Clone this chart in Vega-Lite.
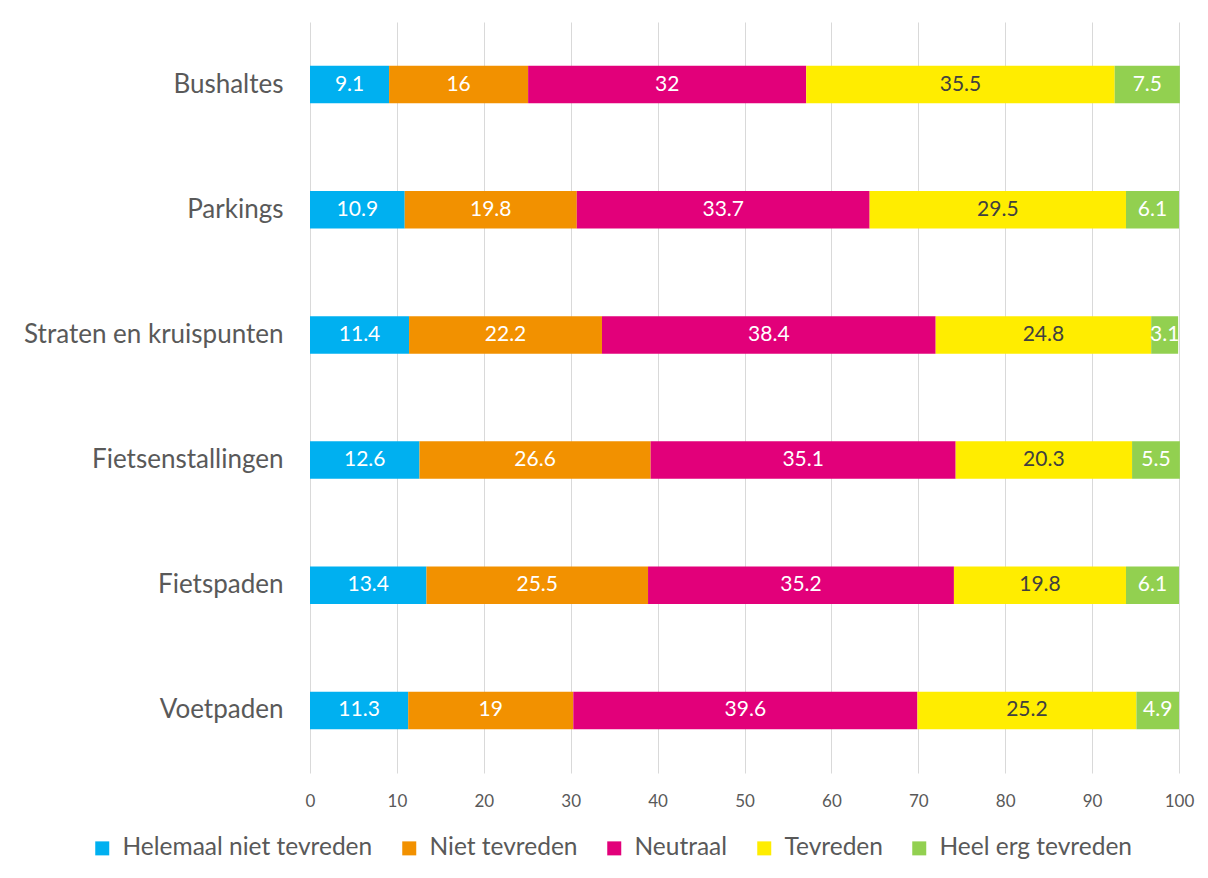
{
  "$schema": "https://vega.github.io/schema/vega-lite/v6.json",
  "width": 869,
  "height": 751,
  "autosize": {"type": "none"},
  "padding": {"left": 310, "top": 22, "right": 29, "bottom": 105},
  "background": "white",
  "config": {
    "font": "Lato",
    "view": {"stroke": null}
  },
  "data": {
    "values": [
      {"loc": "Bushaltes", "cat": "Helemaal niet tevreden", "k": 1, "v": 9.1},
      {"loc": "Bushaltes", "cat": "Niet tevreden", "k": 2, "v": 16},
      {"loc": "Bushaltes", "cat": "Neutraal", "k": 3, "v": 32},
      {"loc": "Bushaltes", "cat": "Tevreden", "k": 4, "v": 35.5},
      {"loc": "Bushaltes", "cat": "Heel erg tevreden", "k": 5, "v": 7.5},
      {"loc": "Parkings", "cat": "Helemaal niet tevreden", "k": 1, "v": 10.9},
      {"loc": "Parkings", "cat": "Niet tevreden", "k": 2, "v": 19.8},
      {"loc": "Parkings", "cat": "Neutraal", "k": 3, "v": 33.7},
      {"loc": "Parkings", "cat": "Tevreden", "k": 4, "v": 29.5},
      {"loc": "Parkings", "cat": "Heel erg tevreden", "k": 5, "v": 6.1},
      {"loc": "Straten en kruispunten", "cat": "Helemaal niet tevreden", "k": 1, "v": 11.4},
      {"loc": "Straten en kruispunten", "cat": "Niet tevreden", "k": 2, "v": 22.2},
      {"loc": "Straten en kruispunten", "cat": "Neutraal", "k": 3, "v": 38.4},
      {"loc": "Straten en kruispunten", "cat": "Tevreden", "k": 4, "v": 24.8},
      {"loc": "Straten en kruispunten", "cat": "Heel erg tevreden", "k": 5, "v": 3.1},
      {"loc": "Fietsenstallingen", "cat": "Helemaal niet tevreden", "k": 1, "v": 12.6},
      {"loc": "Fietsenstallingen", "cat": "Niet tevreden", "k": 2, "v": 26.6},
      {"loc": "Fietsenstallingen", "cat": "Neutraal", "k": 3, "v": 35.1},
      {"loc": "Fietsenstallingen", "cat": "Tevreden", "k": 4, "v": 20.3},
      {"loc": "Fietsenstallingen", "cat": "Heel erg tevreden", "k": 5, "v": 5.5},
      {"loc": "Fietspaden", "cat": "Helemaal niet tevreden", "k": 1, "v": 13.4},
      {"loc": "Fietspaden", "cat": "Niet tevreden", "k": 2, "v": 25.5},
      {"loc": "Fietspaden", "cat": "Neutraal", "k": 3, "v": 35.2},
      {"loc": "Fietspaden", "cat": "Tevreden", "k": 4, "v": 19.8},
      {"loc": "Fietspaden", "cat": "Heel erg tevreden", "k": 5, "v": 6.1},
      {"loc": "Voetpaden", "cat": "Helemaal niet tevreden", "k": 1, "v": 11.3},
      {"loc": "Voetpaden", "cat": "Niet tevreden", "k": 2, "v": 19},
      {"loc": "Voetpaden", "cat": "Neutraal", "k": 3, "v": 39.6},
      {"loc": "Voetpaden", "cat": "Tevreden", "k": 4, "v": 25.2},
      {"loc": "Voetpaden", "cat": "Heel erg tevreden", "k": 5, "v": 4.9}
    ]
  },
  "transform": [
    {"stack": "v", "groupby": ["loc"], "sort": [{"field": "k", "order": "ascending"}], "as": ["v0", "v1"]},
    {"calculate": "(datum.v0 + datum.v1) / 2", "as": "mid"}
  ],
  "encoding": {
    "y": {
      "field": "loc",
      "type": "nominal",
      "sort": ["Bushaltes", "Parkings", "Straten en kruispunten", "Fietsenstallingen", "Fietspaden", "Voetpaden"],
      "scale": {"paddingInner": 0.7, "paddingOuter": 0.35},
      "axis": {
        "title": null,
        "domain": false,
        "ticks": false,
        "labelFontSize": 26,
        "labelColor": "#595959",
        "labelPadding": 27,
        "labelLimit": 400
      }
    }
  },
  "layer": [
    {
      "mark": {"type": "bar"},
      "encoding": {
        "x": {
          "field": "v0",
          "type": "quantitative",
          "scale": {"domain": [0, 100], "nice": false},
          "axis": {
            "title": null,
            "values": [0, 10, 20, 30, 40, 50, 60, 70, 80, 90, 100],
            "domain": false,
            "ticks": false,
            "grid": true,
            "gridColor": "#D9D9D9",
            "gridWidth": 1,
            "labelFontSize": 17,
            "labelColor": "#595959",
            "labelPadding": 20,
            "labelFlush": false
          }
        },
        "x2": {"field": "v1"},
        "color": {
          "field": "cat",
          "type": "nominal",
          "sort": ["Helemaal niet tevreden", "Niet tevreden", "Neutraal", "Tevreden", "Heel erg tevreden"],
          "scale": {
            "domain": ["Helemaal niet tevreden", "Niet tevreden", "Neutraal", "Tevreden", "Heel erg tevreden"],
            "range": ["#00B0F0", "#F29100", "#E2007A", "#FFED00", "#92D050"]
          },
          "legend": {
            "title": null,
            "orient": "none",
            "direction": "horizontal",
            "columns": 5,
            "legendX": -220,
            "legendY": 814,
            "symbolType": "square",
            "symbolSize": 196,
            "symbolStrokeWidth": 0,
            "labelFontSize": 24.5,
            "labelColor": "#595959",
            "labelOffset": 8,
            "columnPadding": 24,
            "labelLimit": 400
          }
        }
      }
    },
    {
      "mark": {"type": "text", "fontSize": 21, "align": "center", "baseline": "middle"},
      "encoding": {
        "x": {"field": "mid", "type": "quantitative"},
        "text": {"field": "v", "type": "nominal"},
        "color": {
          "condition": {"test": "datum.cat === 'Tevreden'", "value": "#404040"},
          "value": "white"
        }
      }
    }
  ]
}
